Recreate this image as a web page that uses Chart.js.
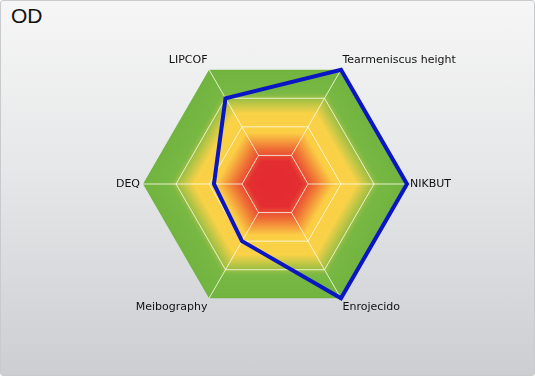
<!DOCTYPE html>
<html lang="es">
<head>
    <meta charset="UTF-8">
    <title>OD</title>
    <script src="https://cdn.jsdelivr.net/npm/chart.js"></script>
    <style>
    html, body { margin: 0; padding: 0; }
    #panel {
        position: relative;
        width: 533px;
        height: 374px;
        border: 1px solid #c9cacd;
        border-radius: 3px;
        background: linear-gradient(to bottom, #f6f6f6 0%, #e6e7e8 45%, #ccced2 100%);
    }
    #title {
        position: absolute;
        left: 10px;
        top: 3px;
        font: 21px "Liberation Sans", Arial, sans-serif;
        color: #111;
    }
    canvas { position: absolute; left: 0; top: 0; }
</style>
</head>
<body>
    <div id="panel">
        <div id="title">OD</div>
        <canvas id="radarOD" width="533" height="374"></canvas>
    </div>
    <script>
        // ejes del radar (en sentido horario desde arriba a la derecha)
        const ejes = ['Tearmeniscus height', 'NIKBUT', 'Enrojecido', 'Meibography', 'DEQ', 'LIPCOF'];
        // valores del ojo derecho, escala 0..4
        const valoresOD = [4, 4, 4, 2, 1.85, 3];
        const escalaMin = 0;
        const escalaMax = 4;

        // colores del fondo: rojo en el centro, amarillo y verde fuera
        const paradas = [
            [0.00, [227, 44, 50]],
            [0.20, [227, 46, 50]],
            [0.32, [240, 118, 54]],
            [0.45, [251, 206, 70]],
            [0.62, [249, 210, 72]],
            [0.80, [120, 184, 68]],
            [1.00, [114, 180, 64]]
        ];

        function colorEn(t) {
            for (let i = 1; i < paradas.length; i++) {
                if (t <= paradas[i][0]) {
                    const a = paradas[i - 1], b = paradas[i];
                    const f = (t - a[0]) / (b[0] - a[0]);
                    const c = a[1].map((v, k) => Math.round(v + (b[1][k] - v) * f));
                    return `rgb(${c[0]},${c[1]},${c[2]})`;
                }
            }
            const c = paradas[paradas.length - 1][1];
            return `rgb(${c[0]},${c[1]},${c[2]})`;
        }

        // hexagonos anidados para el degradado y los radios desde el primer anillo
        const fondoHexagonal = {
            id: 'fondoHexagonal',
            beforeDraw(chart) {
                const r = chart.scales.r;
                const ctx = chart.ctx;
                const n = ejes.length;
                ctx.save();
                for (let s = 200; s >= 1; s--) {
                    const t = s / 200;
                    const dist = r.getDistanceFromCenterForValue(escalaMin + (escalaMax - escalaMin) * t);
                    ctx.beginPath();
                    for (let i = 0; i < n; i++) {
                        const p = r.getPointPosition(i, dist);
                        if (i === 0) ctx.moveTo(p.x, p.y); else ctx.lineTo(p.x, p.y);
                    }
                    ctx.closePath();
                    ctx.fillStyle = colorEn(t);
                    ctx.fill();
                }
                ctx.strokeStyle = 'rgba(255,255,235,0.8)';
                ctx.lineWidth = 1;
                const dIn = r.getDistanceFromCenterForValue(1);
                const dOut = r.getDistanceFromCenterForValue(escalaMax);
                for (let i = 0; i < n; i++) {
                    const a = r.getPointPosition(i, dIn);
                    const b = r.getPointPosition(i, dOut);
                    ctx.beginPath();
                    ctx.moveTo(a.x, a.y);
                    ctx.lineTo(b.x, b.y);
                    ctx.stroke();
                }
                ctx.restore();
            }
        };

        const ctx = document.getElementById('radarOD').getContext('2d');
        new Chart(ctx, {
            type: 'radar',
            data: {
                labels: ejes,
                datasets: [{
                    label: 'OD',
                    data: valoresOD,
                    borderColor: '#0a15c4',
                    borderWidth: 4,
                    borderJoinStyle: 'miter',
                    fill: false,
                    pointRadius: 0,
                    pointHoverRadius: 0
                }]
            },
            options: {
                responsive: false,
                animation: false,
                layout: {
                    padding: { top: 51, bottom: 59, left: 91, right: 76 }
                },
                plugins: {
                    legend: { display: false },
                    tooltip: { enabled: false }
                },
                scales: {
                    r: {
                        min: escalaMin,
                        max: escalaMax,
                        startAngle: 30,
                        ticks: { display: false, stepSize: 1 },
                        angleLines: { display: false },
                        grid: {
                            color: (c) => c.tick && c.tick.value === escalaMax ? 'rgba(0,0,0,0)' : 'rgba(255,255,235,0.8)',
                            lineWidth: 1
                        },
                        pointLabels: {
                            color: '#111',
                            padding: 3,
                            font: { family: 'DejaVu Sans', size: 11 }
                        }
                    }
                }
            },
            plugins: [fondoHexagonal]
        });
    </script>
</body>
</html>
